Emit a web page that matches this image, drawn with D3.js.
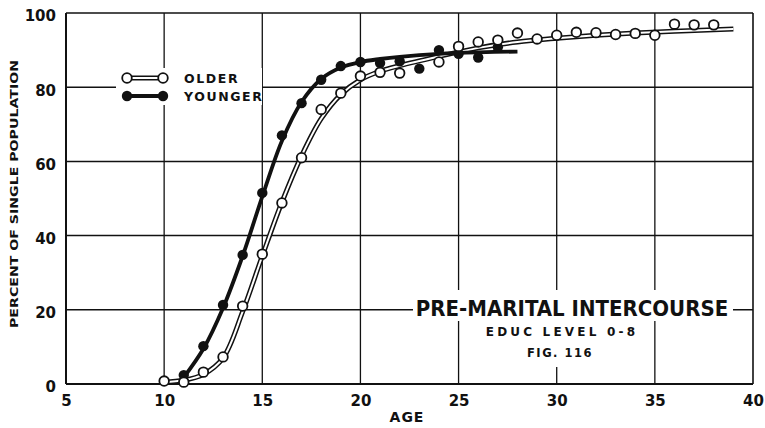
<!DOCTYPE html>
<html>
<head>
<meta charset="utf-8">
<script src="https://cdn.jsdelivr.net/npm/d3@7"></script>
<style>
  html, body { margin: 0; padding: 0; background: #fff; }
  svg { display: block; }
  text { font-family: "DejaVu Sans", "Liberation Sans", sans-serif; font-weight: bold; fill: #111; }
</style>
</head>
<body>
<svg id="chart" width="765" height="428"></svg>
<script>
// ---- data ----
const xTicks = [5, 10, 15, 20, 25, 30, 35, 40];
const yTicks = [0, 20, 40, 60, 80, 100];

const olderAges   = [10, 11, 12, 13, 14, 15, 16, 17, 18, 19, 20, 21, 22, 24, 25, 26, 27, 28, 29, 30, 31, 32, 33, 34, 35, 36, 37, 38];
const olderValues = [0.8, 0.5, 3.2, 7.3, 21, 35, 48.8, 61, 74, 78.4, 83, 84, 83.8, 86.8, 91, 92.2, 92.7, 94.6, 93, 94, 94.8, 94.7, 94.2, 94.5, 94, 97, 96.8, 96.8];

const youngerAges   = [11, 12, 13, 14, 15, 16, 17, 18, 19, 20, 21, 22, 23, 24, 25, 26, 27];
const youngerValues = [2.4, 10.2, 21.3, 34.8, 51.5, 67, 75.7, 82, 85.7, 86.8, 86.5, 87, 85, 90, 89, 88, 90.8];

// smoothed fitted curves as drawn on the reference
const olderFitAges   = [10, 11, 12, 13, 14, 15, 16, 17, 18, 19, 20, 21, 22, 24, 26, 28, 30, 32, 34, 36, 38, 39];
const olderFitValues = [0.5, 1.0, 2.6, 7.0, 19.5, 34.5, 49, 61.5, 71.5, 78, 82, 84.3, 85.8, 88.3, 90.6, 92.2, 93.2, 94.0, 94.6, 95.1, 95.5, 95.7];

const youngerFitAges   = [11, 12, 13, 14, 15, 16, 17, 18, 19, 20, 21, 22, 24, 26, 28];
const youngerFitValues = [1.8, 9.5, 20.5, 34.5, 50.5, 65.5, 76, 82.2, 85.3, 86.8, 87.6, 88.2, 89.0, 89.4, 89.6];

const seriesNames = ["OLDER", "YOUNGER"];
const titleLines = ["PRE-MARITAL INTERCOURSE", "EDUC LEVEL 0-8", "FIG. 116"];
const xTitle = "AGE";
const yTitle = "PERCENT OF SINGLE POPULATION";

// ---- chart ----
const svg = d3.select("#chart");
const x = d3.scaleLinear().domain([5, 40]).range([66, 753]);
const y = d3.scaleLinear().domain([0, 100]).range([384, 13]);

const ink = "#111";

// gridlines
const grid = svg.append("g");
grid.selectAll("line.v").data(xTicks.slice(1, -1)).join("line")
  .attr("x1", d => x(d)).attr("x2", d => x(d))
  .attr("y1", y(100)).attr("y2", y(0))
  .attr("stroke", ink).attr("stroke-width", 1.3);
grid.selectAll("line.h").data(yTicks.slice(1, -1)).join("line")
  .attr("x1", x(5)).attr("x2", x(40))
  .attr("y1", d => y(d)).attr("y2", d => y(d))
  .attr("stroke", ink).attr("stroke-width", 1.5);

// frame
svg.append("line").attr("x1", x(5)).attr("x2", x(40)).attr("y1", y(100)).attr("y2", y(100)).attr("stroke", ink).attr("stroke-width", 1.6);
svg.append("line").attr("x1", x(40)).attr("x2", x(40)).attr("y1", y(100)).attr("y2", y(0)).attr("stroke", ink).attr("stroke-width", 1.6);
svg.append("line").attr("x1", x(5)).attr("x2", x(40)).attr("y1", y(0)).attr("y2", y(0)).attr("stroke", ink).attr("stroke-width", 2.2);
svg.append("line").attr("x1", x(5)).attr("x2", x(5)).attr("y1", y(100)).attr("y2", y(0)).attr("stroke", ink).attr("stroke-width", 2);

// axes tick labels via d3 axes
const xAxis = d3.axisBottom(x).tickValues(xTicks).tickSize(0).tickPadding(0);
const gx = svg.append("g").attr("transform", `translate(0, ${y(0) + 8})`).call(xAxis);
gx.select(".domain").remove();
gx.selectAll("text").attr("font-size", 15).attr("dy", "0.95em")
  .style("font-family", '"DejaVu Sans", sans-serif').style("font-weight", "bold").attr("fill", ink);

const yAxis = d3.axisLeft(y).tickValues(yTicks).tickSize(0).tickPadding(0);
const gy = svg.append("g").attr("transform", `translate(${x(5) - 10}, 3)`).call(yAxis);
gy.select(".domain").remove();
gy.selectAll("text").attr("font-size", 15)
  .style("font-family", '"DejaVu Sans", sans-serif').style("font-weight", "bold").attr("fill", ink);

// axis titles
svg.append("text").attr("x", 407).attr("y", 422).attr("text-anchor", "middle")
  .attr("font-size", 14).attr("letter-spacing", 1).text(xTitle);
svg.append("text").attr("transform", "translate(18, 194) rotate(-90)").attr("text-anchor", "middle")
  .attr("font-size", 11).attr("textLength", 268).attr("lengthAdjust", "spacingAndGlyphs").text(yTitle);

// title block with white halo
const tb = svg.append("g");
tb.append("rect").attr("x", 413).attr("y", 290).attr("width", 320).attr("height", 31).attr("fill", "#fff");
tb.append("rect").attr("x", 478).attr("y", 321).attr("width", 170).attr("height", 18).attr("fill", "#fff");
tb.append("rect").attr("x", 524).attr("y", 339).attr("width", 72).attr("height", 28).attr("fill", "#fff");
tb.append("text").attr("x", 572).attr("y", 316).attr("text-anchor", "middle")
  .style("font-family", '"DejaVu Sans Condensed", "DejaVu Sans", sans-serif')
  .attr("font-size", 22).text(titleLines[0]);
tb.append("text").attr("x", 562).attr("y", 336).attr("text-anchor", "middle")
  .attr("font-size", 12).attr("letter-spacing", 3.2).text(titleLines[1]);
tb.append("text").attr("x", 560).attr("y", 357).attr("text-anchor", "middle")
  .attr("font-size", 11.5).attr("letter-spacing", 1.5).text(titleLines[2]);

// lines
const line = d3.line().x(d => x(d[0])).y(d => y(d[1])).curve(d3.curveCatmullRom.alpha(0.5));
const olderFit = olderFitAges.map((a, i) => [a, olderFitValues[i]]);
const youngerFit = youngerFitAges.map((a, i) => [a, youngerFitValues[i]]);

// older: double line (black outline, white core)
svg.append("path").datum(olderFit).attr("d", line).attr("fill", "none").attr("stroke", ink).attr("stroke-width", 5);
svg.append("path").datum(olderFit).attr("d", line).attr("fill", "none").attr("stroke", "#fff").attr("stroke-width", 2);
// younger: thick black
svg.append("path").datum(youngerFit).attr("d", line).attr("fill", "none").attr("stroke", ink).attr("stroke-width", 3.8);

// points
const olderPts = olderAges.map((a, i) => [a, olderValues[i]]);
const youngerPts = youngerAges.map((a, i) => [a, youngerValues[i]]);
svg.append("g").selectAll("circle").data(youngerPts).join("circle")
  .attr("cx", d => x(d[0])).attr("cy", d => y(d[1])).attr("r", 5.2).attr("fill", ink);
svg.append("g").selectAll("circle").data(olderPts).join("circle")
  .attr("cx", d => x(d[0])).attr("cy", d => y(d[1])).attr("r", 4.8)
  .attr("fill", "#fff").attr("stroke", ink).attr("stroke-width", 1.8);

// legend
const lg = svg.append("g");
lg.append("rect").attr("x", 116).attr("y", 68).attr("width", 146).attr("height", 37).attr("fill", "#fff");
const legY = [78, 96];
// older entry
lg.append("line").attr("x1", 127).attr("x2", 163).attr("y1", legY[0]).attr("y2", legY[0]).attr("stroke", ink).attr("stroke-width", 5);
lg.append("line").attr("x1", 127).attr("x2", 163).attr("y1", legY[0]).attr("y2", legY[0]).attr("stroke", "#fff").attr("stroke-width", 2);
lg.selectAll("circle.o").data([127, 163]).join("circle").attr("class", "o")
  .attr("cx", d => d).attr("cy", legY[0]).attr("r", 4.8).attr("fill", "#fff").attr("stroke", ink).attr("stroke-width", 1.8);
// younger entry
lg.append("line").attr("x1", 127).attr("x2", 163).attr("y1", legY[1]).attr("y2", legY[1]).attr("stroke", ink).attr("stroke-width", 3.8);
lg.selectAll("circle.y").data([127, 163]).join("circle").attr("class", "y")
  .attr("cx", d => d).attr("cy", legY[1]).attr("r", 5.2).attr("fill", ink);
lg.selectAll("text").data(seriesNames).join("text")
  .attr("x", 184).attr("y", (d, i) => legY[i] + 5)
  .attr("font-size", 12.5).attr("letter-spacing", 1.6).text(d => d);
</script>
</body>
</html>
